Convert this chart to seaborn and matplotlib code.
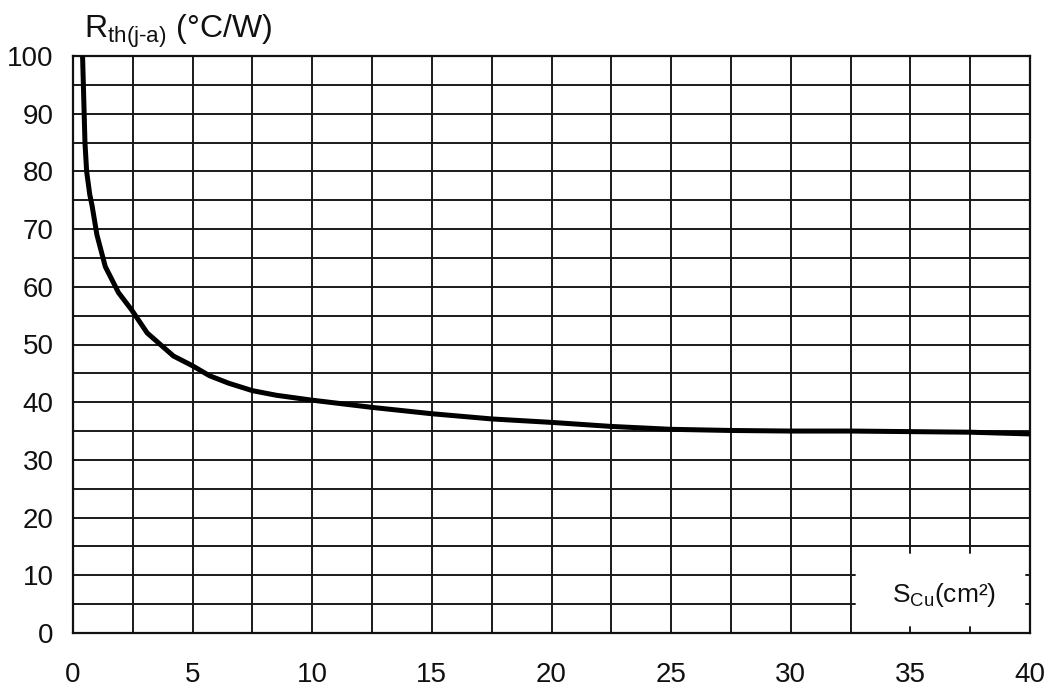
import matplotlib
matplotlib.use("Agg")
import matplotlib.pyplot as plt
import seaborn as sns
import numpy as np
import pandas as pd
from matplotlib.patches import Rectangle

# ---- data ----
s_cu = [0.4, 0.5, 0.57, 0.7, 0.8, 1.0, 1.35, 1.9, 2.45, 3.1, 3.65, 4.2, 5.0, 5.7,
        6.5, 7.5, 8.5, 9.9, 12.5, 15, 17.5, 20, 22.5, 25, 27.5, 30, 32.5, 35, 37.5, 40]
rth = [100, 85, 80, 76, 74, 69, 63.5, 59, 56, 52, 50, 48, 46.3, 44.6,
       43.3, 42, 41.2, 40.4, 39.1, 38, 37.1, 36.5, 35.8, 35.3, 35.1, 35.0, 35.0, 34.9, 34.8, 34.5]
x_ticks = [0, 5, 10, 15, 20, 25, 30, 35, 40]
y_ticks = [0, 10, 20, 30, 40, 50, 60, 70, 80, 90, 100]
x_grid = [2.5 * i for i in range(17)]
y_grid = [5 * i for i in range(21)]
y_label = r"$\mathregular{R_{\text{th(j-a)}}}$" + " (°C/W)"
x_label = r"$\mathregular{S_{\text{Cu}}}$" + "(cm²)"

df = pd.DataFrame({"S": s_cu, "R": rth})

sns.set_theme(style="white")
plt.rcParams["font.family"] = ["Liberation Sans", "DejaVu Sans"]
plt.rcParams["mathtext.fontset"] = "custom"
plt.rcParams["mathtext.rm"] = "Liberation Sans"
plt.rcParams["mathtext.it"] = "Liberation Sans"

fig = plt.figure(figsize=(10.51, 6.90), dpi=100)
ax = fig.add_axes([73 / 1051, 57 / 690, (1030 - 73) / 1051, (633 - 56) / 690])

sns.lineplot(data=df, x="S", y="R", ax=ax, color="black", linewidth=3.6, zorder=5)

ax.set_xlim(0, 40)
ax.set_ylim(0, 100)
ax.set_xticks(x_ticks)
ax.set_yticks(y_ticks)
ax.set_xticks(x_grid, minor=True)
ax.set_yticks(y_grid, minor=True)
ax.grid(True, which="both", color="#1a1a1a", linewidth=1.4)
ax.set_axisbelow(True)
ax.tick_params(axis="both", which="both", length=0)
ax.tick_params(axis="x", labelsize=20, pad=21, colors="#111111")
ax.tick_params(axis="y", labelsize=20, pad=14, colors="#111111")
ax.set_xlabel("")
ax.set_ylabel("")
for sp in ax.spines.values():
    sp.set_color("#111111")
    sp.set_linewidth(1.6)

# white label box in lower right, bounded by grid lines
bx0, bx1, by1 = x_grid[13], x_grid[16], y_grid[3]
ax.add_patch(Rectangle((bx0, 0), bx1 - bx0, by1, facecolor="white",
                       edgecolor="#1a1a1a", linewidth=1.4, zorder=2))
# small inner tick stubs on the box edges
dy, dx = 1.1, 0.18
for gx in x_grid:
    if bx0 < gx < bx1:
        ax.plot([gx, gx], [by1, by1 - dy], color="#1a1a1a", lw=1.4, zorder=3)
        ax.plot([gx, gx], [0, dy], color="#1a1a1a", lw=1.4, zorder=3)
for gy in y_grid:
    if 0 < gy < by1:
        ax.plot([bx0, bx0 + dx], [gy, gy], color="#1a1a1a", lw=1.4, zorder=3)
        ax.plot([bx1, bx1 - dx], [gy, gy], color="#1a1a1a", lw=1.4, zorder=3)

ax.text((bx0 + bx1) / 2 + 0.15, 6.5, x_label, ha="center", va="center",
        fontsize=19, color="#111111", zorder=4)
fig.text(84 / 1051, 1 - 38 / 690, y_label, ha="left", va="baseline",
         fontsize=23, color="#111111")

fig.savefig("out.png", dpi=100, facecolor="white")
